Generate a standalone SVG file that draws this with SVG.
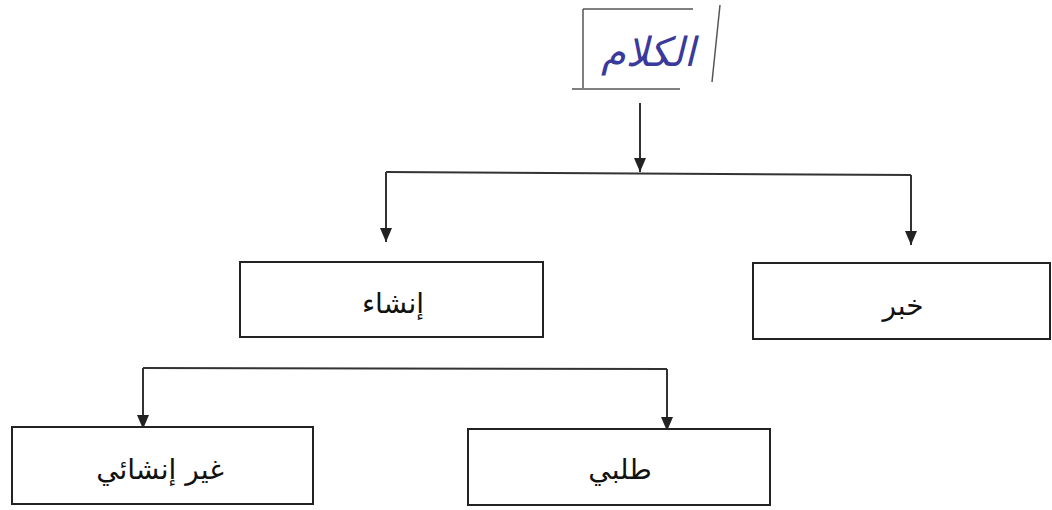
<svg xmlns="http://www.w3.org/2000/svg" width="1052" height="510" viewBox="0 0 1052 510">
<defs>
<marker id="arr" markerWidth="14" markerHeight="12" viewBox="0 0 14 12" refX="14" refY="6" orient="auto" markerUnits="userSpaceOnUse">
<path d="M0,0 L14,6 L0,12 Z" fill="#222"/>
</marker>
<style>
.box{fill:#fff;stroke:#222;stroke-width:2}
.lbl{font-family:"DejaVu Sans","Noto Sans",sans-serif;font-size:28px;fill:#111;text-anchor:middle}
.con{fill:none;stroke:#333;stroke-width:2}
.hand{fill:none;stroke:#555;stroke-width:1.5}
</style>
</defs>
<rect width="1052" height="510" fill="#fff"/>
<g id="node-kalam">
<path class="hand" d="M583,9 L693,9 M583,9 L583,88 M572,89 L680,89 M720,5 L712,82"/>
<text x="648" y="66" font-family="'DejaVu Sans',sans-serif" font-size="40" font-style="italic" fill="#3a3a9c" text-anchor="middle" direction="rtl">الكلام</text>
</g>
<g id="connectors">
<path class="con" d="M640,103 L640,172" marker-end="url(#arr)"/>
<path class="con" d="M386,172 L911,175"/>
<path class="con" d="M386,172 L386,242" marker-end="url(#arr)"/>
<path class="con" d="M911,175 L911,245" marker-end="url(#arr)"/>
<path class="con" d="M143,368 L667,369"/>
<path class="con" d="M143,368 L143,429" marker-end="url(#arr)"/>
<path class="con" d="M667,369 L667,431" marker-end="url(#arr)"/>
</g>
<g id="node-insha">
<rect class="box" x="240" y="262" width="303" height="75"/>
<text class="lbl" x="393" y="313" direction="rtl">إنشاء</text>
</g>
<g id="node-khabar">
<rect class="box" x="753" y="263" width="297" height="76"/>
<text class="lbl" x="903" y="315" direction="rtl">خبر</text>
</g>
<g id="node-ghayr">
<rect class="box" x="12" y="427" width="301" height="77"/>
<text class="lbl" x="160" y="479" direction="rtl">غير إنشائي</text>
</g>
<g id="node-talabi">
<rect class="box" x="468" y="429" width="302" height="76"/>
<text class="lbl" x="620" y="479" direction="rtl">طلبي</text>
</g>
</svg>
